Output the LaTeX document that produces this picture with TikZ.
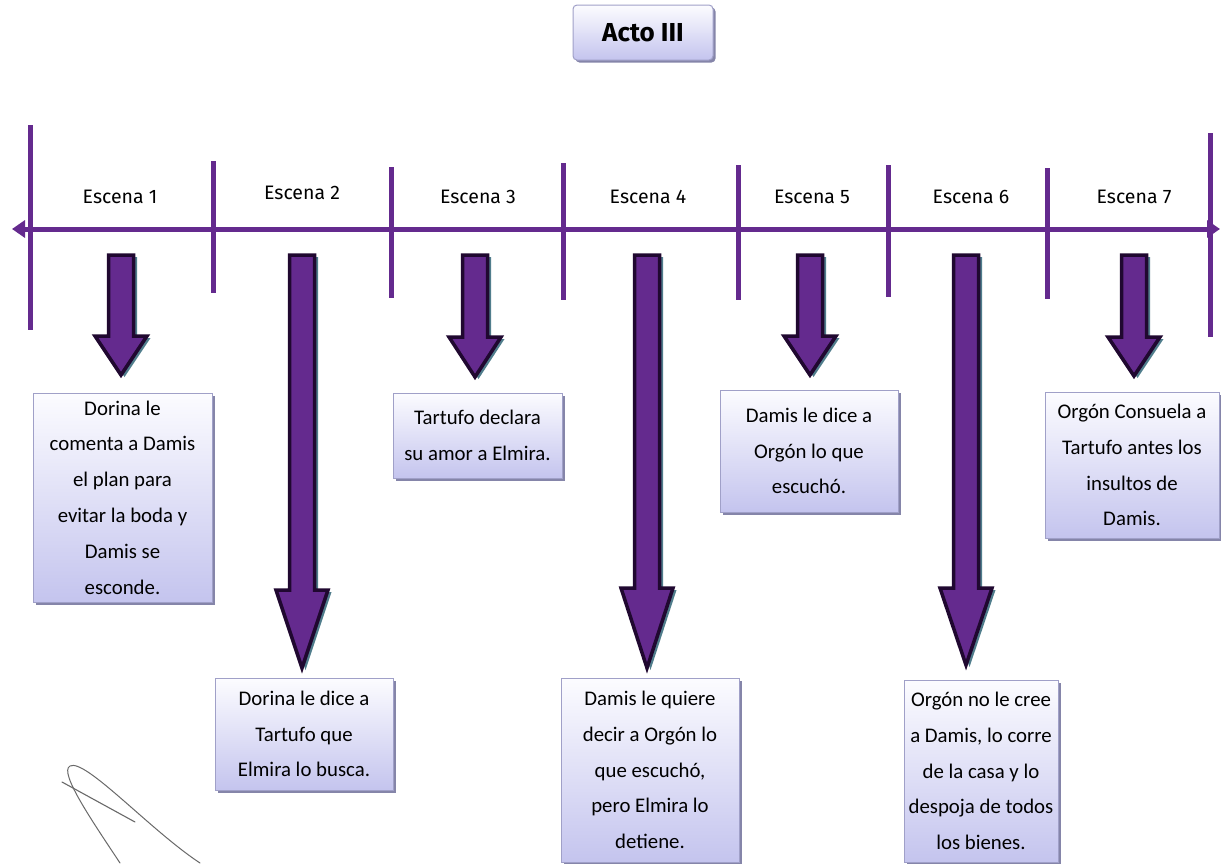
\documentclass[tikz,border=0pt]{standalone}
\usepackage{fontspec}
\setmainfont{Carlito}
\newfontfamily\labelfont{Fira Sans}
\usetikzlibrary{arrows.meta,shadows}
\definecolor{tlpurple}{RGB}{100,42,142}
\definecolor{arrowdark}{RGB}{32,8,48}
\definecolor{arrowshade}{RGB}{80,125,140}
\definecolor{boxtop}{RGB}{252,252,255}
\definecolor{boxbottom}{RGB}{196,196,238}
\definecolor{boxline}{RGB}{160,160,200}
\definecolor{boxshadow}{RGB}{120,120,160}
\definecolor{inkgray}{RGB}{105,105,105}

% outline of a downward block arrow: centre x, top y, head start y, tip y
\newcommand\blockarrowpath[4]{(#1-12.5,#2) -- (#1+12.5,#2) -- (#1+12.5,#3) -- (#1+26,#3) -- (#1,#4) -- (#1-26,#3) -- (#1-12.5,#3) -- cycle}
\newcommand\blockarrow[4]{%
  \fill[arrowshade, shift={(3.5,2)}] \blockarrowpath{#1}{#2}{#3}{#4};
  \filldraw[fill=tlpurple, draw=arrowdark, line width=3.5pt, line join=miter] \blockarrowpath{#1}{#2}{#3}{#4};
}

\begin{document}
\begin{tikzpicture}[x=1pt,y=-1pt,
  timeline/.style={draw=tlpurple, line width=5pt},
  scenelabel/.style={font=\labelfont\fontsize{19.5}{22}\selectfont, text=black},
  scenebox/.style={draw=boxline, line width=1pt, top color=boxtop, bottom color=boxbottom,
    inner sep=0pt, align=center, font=\fontsize{20.8}{35.8}\selectfont,
    drop shadow={shadow xshift=2.5pt, shadow yshift=-2.5pt, fill=boxshadow, opacity=0.9}},
  titlebox/.style={scenebox, rounded corners=4pt, font=\labelfont\bfseries\fontsize{26}{28}\selectfont}
]
\useasboundingbox (0,0) rectangle (1221,863);
\fill[white] (0,0) rectangle (1221,863);

% title
\node[titlebox, minimum width=140pt, minimum height=55pt] (title) at (643,32.5) {Acto III};

% timeline with arrow heads at both ends
\coordinate (tlw) at (12,229);
\coordinate (tle) at (1220,229);
\draw[timeline, {Triangle[length=13pt,width=17pt]}-{Triangle[length=13pt,width=17pt]}] (tlw) -- (tle);

% scene dividers
\foreach \x/\a/\b in {30/125/330, 213/161/293, 391/167/298, 563/163/300,
                      738/165/300, 888/165/297, 1047/168/299, 1210/133/337}
  \draw[timeline] (\x,\a) -- (\x,\b);

% scene labels
\node[scenelabel] (esc1) at (120,197) {Escena 1};
\node[scenelabel] (esc2) at (302,193) {Escena 2};
\node[scenelabel] (esc3) at (478,197) {Escena 3};
\node[scenelabel] (esc4) at (648,197) {Escena 4};
\node[scenelabel] (esc5) at (812,197) {Escena 5};
\node[scenelabel] (esc6) at (971,197) {Escena 6};
\node[scenelabel] (esc7) at (1134,197) {Escena 7};

% block arrows
\blockarrow{121}{255}{336}{375}
\blockarrow{302}{255}{590}{668}
\blockarrow{475}{255}{337}{377}
\blockarrow{647}{255}{588}{668}
\blockarrow{810}{255}{336}{375}
\blockarrow{966}{255}{588}{665}
\blockarrow{1134}{255}{337}{376}

% scene summaries
\node[scenebox, minimum width=179pt, minimum height=209pt] (b1) at (122.5,497.5)
  {Dorina le\\comenta a Damis\\el plan para\\evitar la boda y\\Damis se\\esconde.};
\node[scenebox, minimum width=178pt, minimum height=112pt] (b2) at (304,734)
  {Dorina le dice a\\Tartufo que\\Elmira lo busca.};
\node[scenebox, minimum width=169pt, minimum height=85pt] (b3) at (477.5,435.5)
  {Tartufo declara\\su amor a Elmira.};
\node[scenebox, minimum width=178pt, minimum height=184pt] (b4) at (650,770)
  {Damis le quiere\\decir a Orgón lo\\que escuchó,\\pero Elmira lo\\detiene.};
\node[scenebox, minimum width=178pt, minimum height=122pt] (b5) at (809,451)
  {Damis le dice a\\Orgón lo que\\escuchó.};
\node[scenebox, minimum width=154pt, minimum height=182pt] (b6) at (981,771)
  {Orgón no le cree\\a Damis, lo corre\\de la casa y lo\\despoja de todos\\los bienes.};
\node[scenebox, minimum width=174pt, minimum height=146pt] (b7) at (1132,465)
  {Orgón Consuela a\\Tartufo antes los\\insultos de\\Damis.};

% handwritten mark
\draw[inkgray, line width=1.1pt, line cap=round] (62,782) -- (135,822);
\draw[inkgray, line width=1pt, line cap=round]
  (120,863) .. controls (95,825) and (58,772) .. (70,766)
  .. controls (85,758) and (150,830) .. (200,863);
\end{tikzpicture}
\end{document}
